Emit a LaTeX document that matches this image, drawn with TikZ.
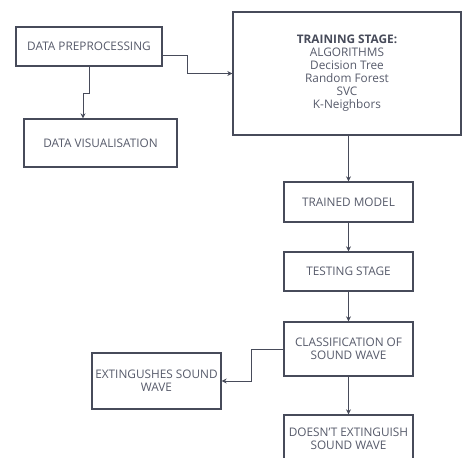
\documentclass[tikz,border=0pt]{standalone}
\usepackage{fontspec}
\setmainfont{Open Sans}
\usetikzlibrary{arrows.meta}
\definecolor{linec}{HTML}{474B5A}
\definecolor{textc}{HTML}{575B6B}
\begin{document}
\begin{tikzpicture}[x=1pt,y=-1pt,
  box/.style={draw=linec,line width=1.3pt,fill=white,rectangle,inner sep=0pt,align=center,
    text=textc,font=\fontsize{11.8}{13}\selectfont},
  arr/.style={draw=linec,line width=0.9pt,-{Stealth[length=5pt,width=5pt]}}]
\useasboundingbox (0,0) rectangle (462,457);
\clip (0,0) rectangle (462,457);
\fill[white] (0,0) rectangle (462,457);
\node[box,minimum width=146pt,minimum height=39pt] (pre) at (89,46.5) {DATA PREPROCESSING};
\node[box,minimum width=153pt,minimum height=48pt] (vis) at (100.5,143) {DATA VISUALISATION};
\node[box,minimum width=228pt,minimum height=123pt] (train) at (347,73.5) {{\bfseries\color{linec}TRAINING STAGE:}\\ALGORITHMS\\Decision Tree\\Random Forest\\SVC\\K-Neighbors};
\node[box,minimum width=129pt,minimum height=40pt] (trained) at (348.5,202) {TRAINED MODEL};
\node[box,minimum width=129pt,minimum height=39pt] (testing) at (348.5,271.5) {TESTING STAGE};
\node[box,minimum width=129pt,minimum height=54pt] (class) at (348.5,349) {CLASSIFICATION OF\\SOUND WAVE};
\node[box,minimum width=129pt,minimum height=56pt] (ext) at (156.5,381) {EXTINGUSHES SOUND\\WAVE};
\node[box,minimum width=129pt,minimum height=55pt] (doesnt) at (348.5,442.5) {};
\node[text=textc,font=\fontsize{11.8}{13}\selectfont,align=center,inner sep=0pt] (doesnttxt) at (348.5,438.5) {DOESN'T EXTINGUISH\\SOUND WAVE};
\draw[arr] (pre.south) -- ++(0,27) -| ([xshift=-17.5pt]vis.north);
\draw[arr] ([yshift=-8.5pt]pre.east) -- ++(25,0) |- (train.west);
\draw[arr] (trained.north |- train.south) -- (trained.north);
\draw[arr] (trained.south) -- (testing.north);
\draw[arr] (testing.south) -- (class.north);
\draw[arr] (class.west) -- ++(-32,0) |- (ext.east);
\draw[arr] (class.south) -- (doesnt.north);
\end{tikzpicture}
\end{document}
